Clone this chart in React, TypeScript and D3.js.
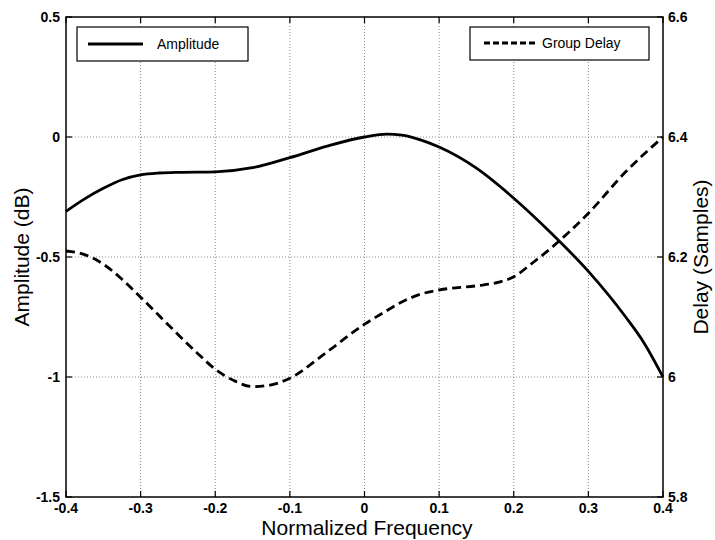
import React from "react";
import * as d3 from "d3";

const xTicks = [-0.4, -0.3, -0.2, -0.1, 0, 0.1, 0.2, 0.3, 0.4];
const xTickLabels = ["-0.4", "-0.3", "-0.2", "-0.1", "0", "0.1", "0.2", "0.3", "0.4"];
const yLeftTicks = [0.5, 0, -0.5, -1, -1.5];
const yLeftTickLabels = ["0.5", "0", "-0.5", "-1", "-1.5"];
const yRightTicks = [6.6, 6.4, 6.2, 6.0, 5.8];
const yRightTickLabels = ["6.6", "6.4", "6.2", "6", "5.8"];

const ampFreq = [-0.4, -0.375, -0.35, -0.325, -0.3, -0.275, -0.25, -0.2, -0.15, -0.1, -0.05, 0, 0.03, 0.05, 0.075, 0.1, 0.15, 0.2, 0.25, 0.3, 0.35, 0.375, 0.4];
const ampValues = [-0.31, -0.258, -0.214, -0.178, -0.158, -0.15, -0.147, -0.145, -0.128, -0.086, -0.038, 0.0, 0.012, 0.008, -0.012, -0.042, -0.13, -0.255, -0.4, -0.56, -0.75, -0.86, -1.0];

const delayFreq = [-0.4, -0.375, -0.35, -0.325, -0.3, -0.275, -0.25, -0.225, -0.2, -0.175, -0.15, -0.125, -0.1, -0.05, 0, 0.025, 0.05, 0.075, 0.1, 0.15, 0.18, 0.2, 0.225, 0.25, 0.3, 0.35, 0.4];
const delayValues = [6.21, 6.204, 6.188, 6.163, 6.133, 6.102, 6.071, 6.041, 6.013, 5.994, 5.984, 5.987, 5.998, 6.042, 6.088, 6.107, 6.125, 6.138, 6.145, 6.152, 6.158, 6.167, 6.19, 6.215, 6.273, 6.342, 6.4];

const legendLabels = ["Amplitude", "Group Delay"];
const xTitle = "Normalized Frequency";
const yLeftTitle = "Amplitude (dB)";
const yRightTitle = "Delay (Samples)";

export default function App() {
  const W = 715, H = 540;
  const left = 66, right = 663, top = 17, bottom = 497;
  const x = d3.scaleLinear().domain([-0.4, 0.4]).range([left, right]);
  const yL = d3.scaleLinear().domain([-1.5, 0.5]).range([bottom, top]);
  const yR = d3.scaleLinear().domain([5.8, 6.6]).range([bottom, top]);

  const ampLine = d3.line<number>().x((_, i) => x(ampFreq[i])).y((d) => yL(d)).curve(d3.curveMonotoneX);
  const delayLine = d3.line<number>().x((_, i) => x(delayFreq[i])).y((d) => yR(d)).curve(d3.curveMonotoneX);

  const font = "'Liberation Sans', Arial, sans-serif";
  const grid = "#888";

  return (
    <svg width={W} height={H} style={{ position: "absolute", left: 0, top: 0, background: "#fff" }} fontFamily={font}>
      <rect x={0} y={0} width={W} height={H} fill="#fff" />
      {/* grid */}
      {xTicks.slice(1, -1).map((t) => (
        <line key={"gx" + t} x1={x(t)} x2={x(t)} y1={top} y2={bottom} stroke={grid} strokeWidth={1} strokeDasharray="1,2" />
      ))}
      {yLeftTicks.slice(1, -1).map((t) => (
        <line key={"gy" + t} x1={left} x2={right} y1={yL(t)} y2={yL(t)} stroke={grid} strokeWidth={1} strokeDasharray="1,2" />
      ))}
      {/* ticks */}
      {xTicks.map((t) => (
        <g key={"tx" + t}>
          <line x1={x(t)} x2={x(t)} y1={bottom} y2={bottom - 6} stroke="#000" strokeWidth={1.2} />
          <line x1={x(t)} x2={x(t)} y1={top} y2={top + 6} stroke="#000" strokeWidth={1.2} />
        </g>
      ))}
      {yLeftTicks.map((t) => (
        <line key={"tyl" + t} x1={left} x2={left + 6} y1={yL(t)} y2={yL(t)} stroke="#000" strokeWidth={1.2} />
      ))}
      {yRightTicks.map((t) => (
        <line key={"tyr" + t} x1={right} x2={right - 6} y1={yR(t)} y2={yR(t)} stroke="#000" strokeWidth={1.2} />
      ))}
      {/* frame */}
      <rect x={left} y={top} width={right - left} height={bottom - top} fill="none" stroke="#000" strokeWidth={1.5} />
      {/* tick labels */}
      {xTicks.map((t, i) => (
        <text key={"lx" + t} x={x(t)} y={513} textAnchor="middle" fontSize={14} fontWeight="bold">{xTickLabels[i]}</text>
      ))}
      {yLeftTicks.map((t, i) => (
        <text key={"ll" + t} x={left - 6} y={yL(t) + 5} textAnchor="end" fontSize={14} fontWeight="bold">{yLeftTickLabels[i]}</text>
      ))}
      {yRightTicks.map((t, i) => (
        <text key={"lr" + t} x={right + 5} y={yR(t) + 5} textAnchor="start" fontSize={14} fontWeight="bold">{yRightTickLabels[i]}</text>
      ))}
      {/* curves */}
      <path d={ampLine(ampValues) || ""} fill="none" stroke="#000" strokeWidth={2.8} />
      <path d={delayLine(delayValues) || ""} fill="none" stroke="#000" strokeWidth={2.8} strokeDasharray="9,5" />
      {/* legends */}
      <rect x={77} y={27} width={171} height={34} fill="#fff" stroke="#000" strokeWidth={1.2} />
      <line x1={88} x2={143} y1={44} y2={44} stroke="#000" strokeWidth={2.8} />
      <text x={157} y={49} fontSize={14}>{legendLabels[0]}</text>
      <rect x={470} y={27} width={179} height={33} fill="#fff" stroke="#000" strokeWidth={1.2} />
      <line x1={484} x2={535} y1={43} y2={43} stroke="#000" strokeWidth={2.8} strokeDasharray="6,3" />
      <text x={542} y={48} fontSize={14}>{legendLabels[1]}</text>
      {/* titles */}
      <text x={367} y={535} textAnchor="middle" fontSize={21}>{xTitle}</text>
      <text transform={`translate(29,257) rotate(-90)`} textAnchor="middle" fontSize={21}>{yLeftTitle}</text>
      <text transform={`translate(708,257) rotate(-90)`} textAnchor="middle" fontSize={21}>{yRightTitle}</text>
    </svg>
  );
}
